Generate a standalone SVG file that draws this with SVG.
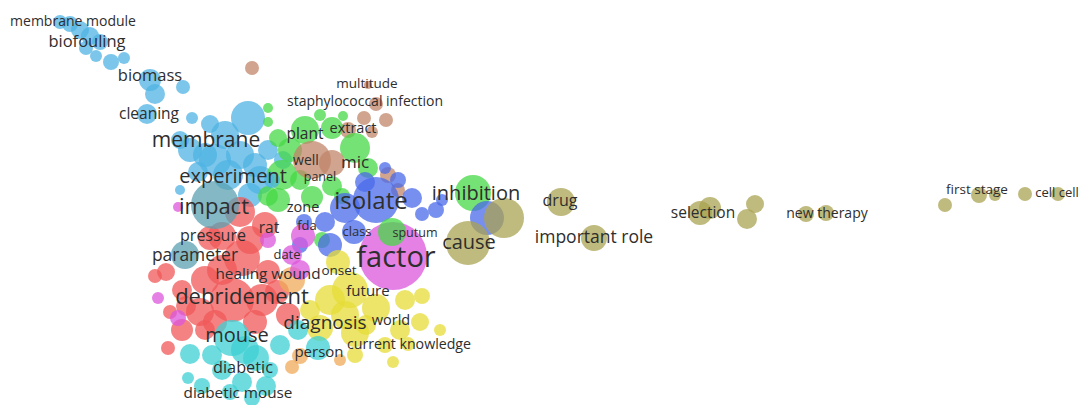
<svg xmlns="http://www.w3.org/2000/svg" width="1081" height="405" viewBox="0 0 1081 405">
<style>
circle{fill-opacity:0.75}
.lb{fill:#4fb3e3}.gr{fill:#45d845}.br{fill:#c0866a}.bl{fill:#4a6ae8}.ol{fill:#a9a352}.rd{fill:#f05858}.mg{fill:#dc55dc}.ye{fill:#e6dc38}.cy{fill:#3ed0d4}.or{fill:#f0aa58}.tl{fill:#5aa0b0}
text{font-family:"Open Sans","Noto Sans","Liberation Sans",sans-serif;fill:#2e2e2e;text-anchor:middle}
</style>
<rect width="1081" height="405" fill="#ffffff"/>
<g id="bubbles">
<!-- light blue -->
<circle class="lb" cx="60" cy="22" r="7"/><circle class="lb" cx="70" cy="24" r="8"/><circle class="lb" cx="80" cy="30" r="9"/><circle class="lb" cx="90" cy="36" r="9"/><circle class="lb" cx="100" cy="42" r="8"/><circle class="lb" cx="86" cy="48" r="7"/><circle class="lb" cx="96" cy="56" r="6"/><circle class="lb" cx="111" cy="62" r="8"/><circle class="lb" cx="124" cy="58" r="6"/>
<circle class="lb" cx="150" cy="80" r="11"/><circle class="lb" cx="155" cy="94" r="10"/><circle class="lb" cx="183" cy="87" r="7"/><circle class="lb" cx="147" cy="114" r="10"/><circle class="lb" cx="192" cy="118" r="6"/>
<circle class="lb" cx="248" cy="118" r="17"/><circle class="lb" cx="210" cy="124" r="9"/><circle class="lb" cx="225" cy="135" r="14"/><circle class="lb" cx="190" cy="150" r="12"/><circle class="lb" cx="205" cy="155" r="12"/><circle class="lb" cx="240" cy="155" r="14"/><circle class="lb" cx="268" cy="150" r="10"/><circle class="lb" cx="180" cy="190" r="5"/><circle class="lb" cx="198" cy="172" r="10"/><circle class="lb" cx="228" cy="175" r="15"/><circle class="lb" cx="260" cy="180" r="14"/><circle class="lb" cx="250" cy="195" r="12"/><circle class="lb" cx="283" cy="160" r="9"/>
<circle class="lb" cx="215" cy="160" r="16"/><circle class="lb" cx="255" cy="165" r="12"/><circle class="lb" cx="180" cy="140" r="9"/>
<!-- brown -->
<circle class="br" cx="252" cy="68" r="7"/><circle class="br" cx="368" cy="85" r="4"/><circle class="br" cx="376" cy="104" r="7"/><circle class="br" cx="386" cy="120" r="7"/><circle class="br" cx="364" cy="118" r="7"/><circle class="br" cx="348" cy="130" r="8"/><circle class="br" cx="372" cy="132" r="6"/><circle class="br" cx="388" cy="175" r="8"/><circle class="br" cx="398" cy="190" r="7"/>
<!-- green -->
<circle class="gr" cx="268" cy="108" r="5"/><circle class="gr" cx="268" cy="122" r="5"/><circle class="gr" cx="305" cy="130" r="14"/><circle class="gr" cx="332" cy="128" r="11"/><circle class="gr" cx="320" cy="115" r="6"/><circle class="gr" cx="343" cy="116" r="5"/><circle class="gr" cx="355" cy="148" r="15"/><circle class="gr" cx="278" cy="138" r="9"/><circle class="gr" cx="282" cy="175" r="15"/><circle class="gr" cx="368" cy="168" r="10"/><circle class="gr" cx="278" cy="200" r="12"/><circle class="gr" cx="312" cy="197" r="11"/><circle class="gr" cx="300" cy="180" r="10"/><circle class="gr" cx="322" cy="240" r="8"/>
<circle class="gr" cx="290" cy="150" r="12"/><circle class="gr" cx="268" cy="196" r="10"/><circle class="gr" cx="332" cy="186" r="10"/><circle class="gr" cx="342" cy="196" r="8"/>
<circle class="br" cx="312" cy="160" r="19"/><circle class="br" cx="332" cy="163" r="13"/>
<circle class="lb" cx="272" cy="180" r="8"/>
<!-- blue -->
<circle class="bl" cx="376" cy="200" r="23"/><circle class="bl" cx="345" cy="208" r="15"/><circle class="bl" cx="398" cy="180" r="8"/><circle class="bl" cx="412" cy="198" r="10"/><circle class="bl" cx="422" cy="214" r="7"/><circle class="bl" cx="436" cy="210" r="8"/><circle class="bl" cx="442" cy="200" r="6"/><circle class="bl" cx="385" cy="168" r="6"/><circle class="bl" cx="304" cy="222" r="8"/><circle class="bl" cx="325" cy="222" r="10"/><circle class="bl" cx="330" cy="245" r="12"/><circle class="bl" cx="354" cy="232" r="12"/>
<circle class="bl" cx="365" cy="182" r="10"/><circle class="bl" cx="300" cy="245" r="8"/>
<!-- red -->
<circle class="rd" cx="240" cy="212" r="15"/><circle class="rd" cx="265" cy="225" r="13"/><circle class="rd" cx="242" cy="258" r="18"/><circle class="rd" cx="210" cy="238" r="12"/><circle class="rd" cx="205" cy="280" r="14"/><circle class="rd" cx="166" cy="272" r="9"/><circle class="rd" cx="155" cy="276" r="7"/><circle class="rd" cx="182" cy="290" r="10"/><circle class="rd" cx="232" cy="300" r="22"/><circle class="rd" cx="200" cy="312" r="14"/><circle class="rd" cx="262" cy="300" r="16"/><circle class="rd" cx="288" cy="315" r="12"/><circle class="rd" cx="182" cy="330" r="11"/><circle class="rd" cx="205" cy="330" r="10"/><circle class="rd" cx="168" cy="348" r="7"/><circle class="rd" cx="268" cy="272" r="12"/>
<circle class="rd" cx="222" cy="236" r="14"/><circle class="rd" cx="250" cy="240" r="14"/><circle class="rd" cx="222" cy="270" r="15"/><circle class="rd" cx="186" cy="306" r="10"/><circle class="rd" cx="215" cy="322" r="12"/><circle class="rd" cx="255" cy="322" r="12"/><circle class="rd" cx="277" cy="292" r="12"/><circle class="rd" cx="170" cy="312" r="7"/>
<circle class="tl" cx="215" cy="205" r="24"/><circle class="tl" cx="185" cy="255" r="14"/>
<circle class="or" cx="292" cy="280" r="13"/>
<!-- magenta -->
<circle class="mg" cx="393" cy="256" r="34"/><circle class="gr" cx="392" cy="232" r="14"/><circle class="mg" cx="158" cy="298" r="6"/><circle class="mg" cx="178" cy="318" r="8"/><circle class="mg" cx="178" cy="207" r="5"/><circle class="mg" cx="303" cy="236" r="12"/><circle class="mg" cx="292" cy="255" r="10"/><circle class="mg" cx="268" cy="240" r="8"/><circle class="mg" cx="300" cy="270" r="10"/>
<!-- yellow -->
<circle class="ye" cx="350" cy="290" r="18"/><circle class="ye" cx="330" cy="300" r="15"/><circle class="ye" cx="376" cy="308" r="14"/><circle class="ye" cx="405" cy="300" r="10"/><circle class="ye" cx="422" cy="296" r="8"/><circle class="ye" cx="420" cy="322" r="9"/><circle class="ye" cx="400" cy="330" r="10"/><circle class="ye" cx="385" cy="345" r="8"/><circle class="ye" cx="408" cy="344" r="7"/><circle class="ye" cx="393" cy="362" r="6"/><circle class="ye" cx="355" cy="333" r="14"/><circle class="ye" cx="320" cy="328" r="13"/><circle class="ye" cx="440" cy="330" r="6"/><circle class="ye" cx="338" cy="262" r="12"/><circle class="ye" cx="355" cy="355" r="8"/>
<circle class="ye" cx="345" cy="315" r="14"/><circle class="ye" cx="366" cy="325" r="10"/><circle class="ye" cx="310" cy="310" r="10"/>
<!-- cyan -->
<circle class="cy" cx="232" cy="338" r="18"/><circle class="cy" cx="190" cy="354" r="10"/><circle class="cy" cx="256" cy="358" r="13"/><circle class="cy" cx="222" cy="370" r="10"/><circle class="cy" cx="242" cy="382" r="10"/><circle class="cy" cx="202" cy="386" r="8"/><circle class="cy" cx="266" cy="386" r="10"/><circle class="cy" cx="252" cy="398" r="8"/><circle class="cy" cx="298" cy="330" r="10"/><circle class="cy" cx="318" cy="348" r="12"/><circle class="cy" cx="280" cy="345" r="10"/><circle class="cy" cx="188" cy="378" r="6"/>
<circle class="cy" cx="245" cy="350" r="14"/><circle class="cy" cx="212" cy="355" r="10"/><circle class="cy" cx="270" cy="370" r="8"/><circle class="cy" cx="230" cy="392" r="8"/>
<circle class="or" cx="300" cy="356" r="8"/><circle class="or" cx="292" cy="367" r="7"/><circle class="or" cx="340" cy="360" r="6"/>
<!-- right side -->
<circle class="gr" cx="473" cy="193" r="18"/><circle class="bl" cx="487" cy="218" r="17"/><circle class="ol" cx="504" cy="218" r="20"/><circle class="ol" cx="468" cy="243" r="22"/>
<circle class="ol" cx="561" cy="202" r="14"/><circle class="ol" cx="594" cy="238" r="13"/>
<circle class="ol" cx="700" cy="213" r="12"/><circle class="ol" cx="710" cy="208" r="11"/><circle class="ol" cx="747" cy="219" r="10"/><circle class="ol" cx="755" cy="204" r="9"/>
<circle class="ol" cx="806" cy="214" r="8"/><circle class="ol" cx="826" cy="213" r="8"/>
<circle class="ol" cx="945" cy="205" r="7"/><circle class="ol" cx="979" cy="195" r="8"/><circle class="ol" cx="995" cy="195" r="6"/><circle class="ol" cx="1025" cy="194" r="7"/><circle class="ol" cx="1058" cy="194" r="7"/>
</g>
<g id="labels">
<text x="73" y="26" font-size="14">membrane module</text>
<text x="87" y="47" font-size="16.5">biofouling</text>
<text x="150" y="81" font-size="16.5">biomass</text>
<text x="149" y="119" font-size="15.5">cleaning</text>
<text x="206" y="147" font-size="21">membrane</text>
<text x="367" y="88" font-size="13.5">multitude</text>
<text x="365" y="106" font-size="14">staphylococcal infection</text>
<text x="305" y="139" font-size="15.5">plant</text>
<text x="353" y="133" font-size="14.5">extract</text>
<text x="306" y="165" font-size="14">well</text>
<text x="320" y="181" font-size="12.5">panel</text>
<text x="355" y="168" font-size="17">mic</text>
<text x="233" y="183" font-size="20">experiment</text>
<text x="371" y="209" font-size="24">isolate</text>
<text x="214" y="214" font-size="22">impact</text>
<text x="303" y="212" font-size="14.5">zone</text>
<text x="476" y="200" font-size="20">inhibition</text>
<text x="560" y="206" font-size="16">drug</text>
<text x="213" y="241" font-size="16">pressure</text>
<text x="269" y="233" font-size="15.5">rat</text>
<text x="307" y="230" font-size="13">fda</text>
<text x="357" y="236" font-size="13">class</text>
<text x="415" y="237" font-size="12.5">sputum</text>
<text x="469" y="249" font-size="20">cause</text>
<text x="594" y="243" font-size="17.5">important role</text>
<text x="195" y="261" font-size="17.4">parameter</text>
<text x="287" y="259" font-size="13">date</text>
<text x="396" y="267" font-size="29">factor</text>
<text x="268" y="279" font-size="15.3">healing wound</text>
<text x="339" y="275" font-size="13.5">onset</text>
<text x="368" y="296" font-size="15">future</text>
<text x="242" y="304" font-size="22">debridement</text>
<text x="325" y="329" font-size="19">diagnosis</text>
<text x="391" y="325" font-size="14.5">world</text>
<text x="237" y="342" font-size="20">mouse</text>
<text x="409" y="349" font-size="14.2">current knowledge</text>
<text x="319" y="357" font-size="15">person</text>
<text x="243" y="373" font-size="16.3">diabetic</text>
<text x="238" y="398" font-size="15.3">diabetic mouse</text>
<text x="703" y="218" font-size="15.5">selection</text>
<text x="827" y="218" font-size="14">new therapy</text>
<text x="977" y="194" font-size="13.5">first stage</text>
<text x="1057" y="197" font-size="13">cell cell</text>
</g>
</svg>
